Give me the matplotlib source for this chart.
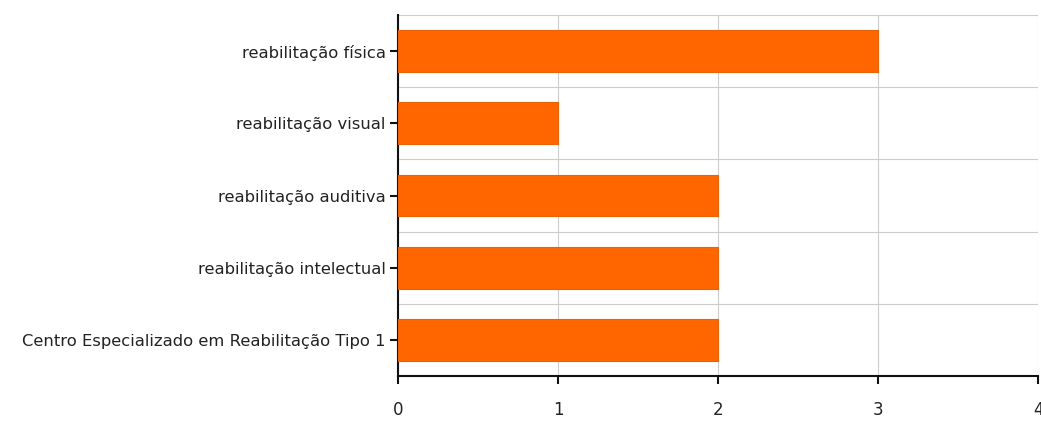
import matplotlib
matplotlib.use("Agg")
import matplotlib.pyplot as plt

categories = ["reabilitação física", "reabilitação visual", "reabilitação auditiva",
              "reabilitação intelectual", "Centro Especializado em Reabilitação Tipo 1"]
values = [3, 1, 2, 2, 2]
xticks = [0, 1, 2, 3, 4]

fig = plt.figure(figsize=(10.41, 4.24), dpi=100)
ax = fig.add_axes([398/1041, 1 - 376/424, 640/1041, 361/424])

n = len(categories)
ypos = list(range(n))[::-1]
ax.barh(ypos, values, height=0.58, color="#ff6600", edgecolor="#e8620a", linewidth=0.8, zorder=3)
ax.set_ylim(-0.5, n - 0.5)
ax.set_xlim(0, 4)
ax.set_xticks(xticks)
ax.set_xticklabels([str(t) for t in xticks], fontsize=12, color="#222222")
ax.set_yticks(ypos)
ax.set_yticklabels(categories, fontsize=11.8, color="#222222")
ax.set_yticks([i + 0.5 for i in range(n)], minor=True)
ax.grid(True, axis="x", which="major", color="#cccccc", linewidth=0.8, zorder=0)
ax.grid(True, axis="y", which="minor", color="#cccccc", linewidth=0.8, zorder=0)
ax.tick_params(axis="y", which="minor", length=0)
ax.tick_params(axis="both", which="major", direction="out", length=6, width=1.5, color="#111111")
ax.tick_params(axis="x", pad=12)
ax.tick_params(axis="y", pad=3)
for s in ["top", "right"]:
    ax.spines[s].set_visible(False)
for s in ["left", "bottom"]:
    ax.spines[s].set_color("#111111")
    ax.spines[s].set_linewidth(1.5)

fig.savefig("out.png", dpi=100)
